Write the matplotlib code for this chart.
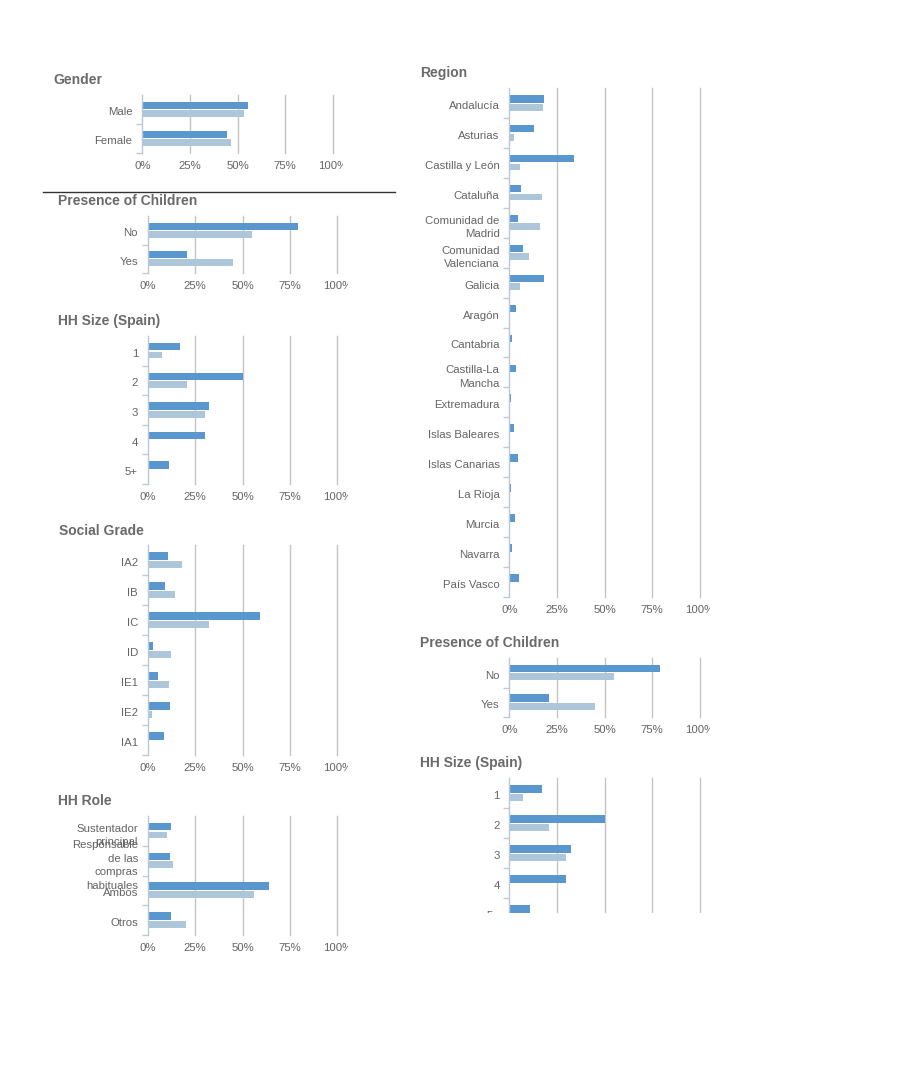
import matplotlib
matplotlib.use("Agg")
import matplotlib.pyplot as plt
import matplotlib.transforms as mtransforms
from matplotlib.patches import Rectangle
from matplotlib.lines import Line2D

plt.rcParams['font.family'] = ['Liberation Sans', 'DejaVu Sans']

# ---------------- data ----------------
gender_cats = ["Male", "Female"]
gender_a = [55.5, 44.5]
gender_b = [53.4, 46.6]

children_cats = ["No", "Yes"]
children_a = [79.2, 20.8]
children_b = [55.0, 45.0]

hhsize_cats = ["1", "2", "3", "4", "5+"]
hhsize_a = [17.0, 50.0, 32.3, 30.0, 11.0]
hhsize_b = [7.3, 20.7, 30.0, 0.0, 0.0]

grade_cats = ["IA2", "IB", "IC", "ID", "IE1", "IE2", "IA1"]
grade_a = [10.7, 9.1, 59.2, 2.8, 5.5, 11.8, 8.6]
grade_b = [18.1, 14.4, 32.3, 12.4, 11.4, 2.3, 0.0]

role_cats = ["Sustentador\nprincipal", "Responsable\nde las\ncompras\nhabituales", "Ambos", "Otros"]
role_a = [12.3, 11.8, 63.9, 12.3]
role_b = [10.2, 13.4, 56.0, 20.1]

region_cats = ["Andalucía", "Asturias", "Castilla y León", "Cataluña", "Comunidad de\nMadrid",
               "Comunidad\nValenciana", "Galicia", "Aragón", "Cantabria", "Castilla-La\nMancha",
               "Extremadura", "Islas Baleares", "Islas Canarias", "La Rioja", "Murcia",
               "Navarra", "País Vasco"]
region_a = [18.2, 13.0, 34.0, 6.1, 4.6, 7.1, 18.2, 3.5, 1.2, 3.5, 0.7, 2.5, 4.6, 0.7, 3.0, 1.2, 5.1]
region_b = [17.7, 2.5, 5.6, 17.2, 16.1, 10.3, 5.6, 0.0, 0.0, 0.0, 0.0, 0.0, 0.0, 0.0, 0.0, 0.0, 0.0]

x_ticks = [0, 25, 50, 75, 100]
x_labels = ["0%", "25%", "50%", "75%", "100%"]

# ---------------- style ----------------
DARK = "#5a97cf"
LIGHT = "#aec6d9"
GRID = "#c4c4c4"
SPINE = "#b8c8d8"
TXT = "#646464"
TITLE = "#6a6a6a"

W, H = 900, 1080
fig = plt.figure(figsize=(W / 100, H / 100), dpi=100)
fig.patch.set_facecolor("white")


def px_axes(left, top, right, bottom):
    return fig.add_axes([left / W, 1 - bottom / H, (right - left) / W, (bottom - top) / H])


def panel(left, top, right, bottom, cats, a, b, title, title_x, title_y, label_fs=8.2):
    ax = px_axes(left, top, right, bottom)
    n = len(cats)
    pos = list(range(n))
    ax.barh([p - 0.14 for p in pos], a, height=0.25, color=DARK, zorder=3)
    ax.barh([p + 0.14 for p in pos], b, height=0.23, color=LIGHT, zorder=3)
    ax.set_xlim(0, 100)
    ax.set_ylim(n - 0.5, -0.5)
    for s in ["top", "right", "bottom"]:
        ax.spines[s].set_visible(False)
    ax.spines["left"].set_color(SPINE)
    ax.spines["left"].set_linewidth(1)
    ax.spines["left"].set_zorder(4)
    for g in x_ticks[1:]:
        ax.axvline(g, color=GRID, lw=1, zorder=1, clip_on=False)
    ax.set_xticks(x_ticks)
    ax.set_xticklabels(x_labels)
    ax.tick_params(axis="x", length=0, pad=6, labelsize=8.2, labelcolor=TXT)
    ax.set_yticks(pos)
    ax.set_yticklabels(cats)
    ax.tick_params(axis="y", which="major", length=0, pad=7, labelsize=label_fs, labelcolor=TXT)
    shift = mtransforms.ScaledTranslation(0, -2 / 100, fig.dpi_scale_trans)
    for lab in ax.get_yticklabels():
        lab.set_linespacing(1.45)
        lab.set_transform(lab.get_transform() + shift)
    ax.set_yticks([p + 0.5 for p in pos], minor=True)
    ax.tick_params(axis="y", which="minor", length=4, color="#c8c8c8", width=1)
    ax.set_facecolor("none")
    fig.text(title_x / W, 1 - title_y / H, title, fontsize=10, fontweight="bold",
             color=TITLE, va="center", ha="left")
    return ax


# left column
panel(142.3, 95, 332.7, 153, gender_cats, gender_a, gender_b, "Gender", 53, 80)
panel(147.7, 216, 337.3, 273, children_cats, children_a, children_b, "Presence of Children", 58, 201)
panel(147.7, 336, 337.3, 484, hhsize_cats, hhsize_a, hhsize_b, "HH Size (Spain)", 58, 321)
panel(147.7, 545, 337.3, 755, grade_cats, grade_a, grade_b, "Social Grade", 59, 531)
panel(147.7, 816, 337.3, 935, role_cats, role_a, role_b, "HH Role", 58, 801)

# right column
panel(509.3, 88, 699.7, 597, region_cats, region_a, region_b, "Region", 420, 73)
panel(509.3, 658, 699.7, 717, children_cats, children_a, children_b, "Presence of Children", 420, 643)
panel(509.3, 778, 699.7, 928, hhsize_cats, hhsize_a, hhsize_b, "HH Size (Spain)", 420, 763)

# separator line under Gender panel
fig.add_artist(Line2D([43 / W, 395 / W], [1 - 192 / H, 1 - 192 / H], color="#333333", lw=1))

# clipping masks (container edges)
def mask(left, top, right, bottom):
    fig.add_artist(Rectangle((left / W, 1 - bottom / H), (right - left) / W, (bottom - top) / H,
                             transform=fig.transFigure, facecolor="white", edgecolor="none", zorder=10))

mask(400, 913, 760, 960)          # right HH size panel cut off
mask(343, 155, 400, 175)          # "100%" clipped
mask(348, 276, 400, 295)
mask(348, 487, 400, 505)
mask(348, 757, 400, 775)
mask(348, 937, 400, 955)
mask(710, 600, 760, 615)
mask(710, 720, 760, 735)

fig.savefig("out.png", dpi=100, facecolor="white")
